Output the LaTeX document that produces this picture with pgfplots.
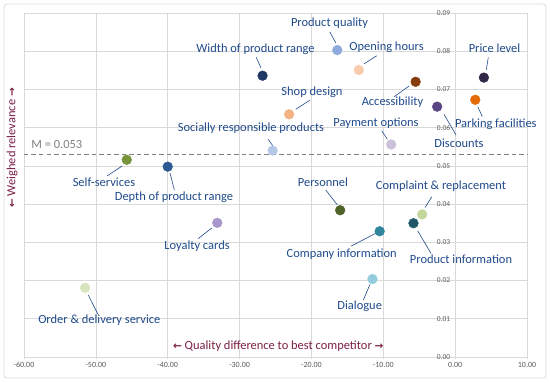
\documentclass[border=0pt]{standalone}
\usepackage{pgfplots}
\pgfplotsset{compat=1.18}
\usepackage{fontspec}
\setmainfont{Carlito}
\newfontfamily\arrowfont{DejaVu Sans}
\definecolor{lbl}{HTML}{1F4A8A}
\definecolor{ttl}{HTML}{7A1F45}
\definecolor{gridc}{HTML}{D9D9D9}
\definecolor{tickc}{HTML}{595959}
\definecolor{c1}{HTML}{203864}
\definecolor{c2}{HTML}{8FAADC}
\definecolor{c3}{HTML}{F8CBAD}
\definecolor{c4}{HTML}{843C0C}
\definecolor{c5}{HTML}{2F2847}
\definecolor{c6}{HTML}{E36C09}
\definecolor{c7}{HTML}{5B4582}
\definecolor{c8}{HTML}{F4B183}
\definecolor{c9}{HTML}{CCC1DA}
\definecolor{c10}{HTML}{B4C7E7}
\definecolor{c11}{HTML}{77933C}
\definecolor{c12}{HTML}{2E5A93}
\definecolor{c13}{HTML}{A797CB}
\definecolor{c14}{HTML}{D7E4BD}
\definecolor{c15}{HTML}{4F6228}
\definecolor{c16}{HTML}{C3D69B}
\definecolor{c17}{HTML}{215968}
\definecolor{c18}{HTML}{31859C}
\definecolor{c19}{HTML}{93CDDD}
\tikzset{lab/.style={font=\fontsize{12.5}{14}\selectfont, text=lbl, inner sep=0pt}}
\begin{document}
\begin{tikzpicture}[x=1bp,y=1bp]
\begin{axis}[
  at={(0,0)}, anchor=south west,
  scale only axis, width=503bp, height=344bp,
  xmin=-60, xmax=10, ymin=0, ymax=0.09,
  xtick={-60,-50,...,10}, ytick={0,0.01,...,0.09},
  axis x line=bottom, axis y line=middle,
  hide obscured y ticks=false, hide obscured x ticks=false,
  axis line style={-, color=gridc, line width=0.8pt},
  grid=major, major grid style={color=gridc, line width=0.7pt},
  tick style={color=gridc, line width=0.6pt},
  major tick length=3bp,
  /pgf/number format/assume math mode=true,
  xticklabel style={font=\fontsize{8}{9}\selectfont, color=tickc, /pgf/number format/.cd, fixed, fixed zerofill, precision=2},
  yticklabel style={font=\fontsize{7.5}{8}\selectfont, color=tickc, /pgf/number format/.cd, fixed, fixed zerofill, precision=2},
  scaled y ticks=false,
  clip=false,
  pt/.style={only marks, mark=*, mark size=4.9pt, mark options={draw=#1, fill=#1}},
]
% mean line
\addplot[color=black!50, line width=1.2bp, dash pattern=on 4.5bp off 3bp] coordinates {(-60,0.053) (10,0.053)};
% leader lines
\begin{scope}[lbl, line width=0.6pt]
\draw (axis cs:-27.71,0.0785) -- (axis cs:-27.02,0.0756);
\draw (axis cs:-17.42,0.0850) -- (axis cs:-16.62,0.0822);
\draw (axis cs:-10.92,0.0788) -- (axis cs:-12.68,0.0767);
\draw (axis cs:-8.47,0.0681) -- (axis cs:-6.42,0.0709);
\draw (axis cs:4.61,0.0784) -- (axis cs:4.34,0.0751);
\draw (axis cs:3.14,0.0655) -- (axis cs:3.78,0.0629);
\draw (axis cs:-1.55,0.0635) -- (axis cs:0.12,0.0581);
\draw (axis cs:-22.19,0.0648) -- (axis cs:-20.20,0.0672);
\draw (axis cs:-10.22,0.0592) -- (axis cs:-9.44,0.0570);
\draw (axis cs:-26.04,0.0570) -- (axis cs:-25.35,0.0552);
\draw (axis cs:-48.41,0.0474) -- (axis cs:-46.32,0.0500);
\draw (axis cs:-39.68,0.0481) -- (axis cs:-39.08,0.0437);
\draw (axis cs:-35.74,0.0310) -- (axis cs:-33.84,0.0338);
\draw (axis cs:-51.05,0.0162) -- (axis cs:-49.74,0.0113);
\draw (axis cs:-18.01,0.0437) -- (axis cs:-16.40,0.0398);
\draw (axis cs:-3.26,0.0419) -- (axis cs:-4.19,0.0391);
\draw (axis cs:-5.21,0.0330) -- (axis cs:-3.36,0.0271);
\draw (axis cs:-14.49,0.0290) -- (axis cs:-11.01,0.0324);
\draw (axis cs:-12.78,0.0149) -- (axis cs:-11.85,0.0190);
\end{scope}
% points
\addplot[pt=c1] coordinates {(-26.8,0.0736)};
\addplot[pt=c2] coordinates {(-16.4,0.0803)};
\addplot[pt=c3] coordinates {(-13.4,0.0751)};
\addplot[pt=c4] coordinates {(-5.5,0.0720)};
\addplot[pt=c5] coordinates {(4.0,0.0731)};
\addplot[pt=c6] coordinates {(2.8,0.0673)};
\addplot[pt=c7] coordinates {(-2.5,0.0655)};
\addplot[pt=c8] coordinates {(-23.1,0.0635)};
\addplot[pt=c9] coordinates {(-8.9,0.0556)};
\addplot[pt=c10] coordinates {(-25.4,0.0540)};
\addplot[pt=c11] coordinates {(-45.7,0.0516)};
\addplot[pt=c12] coordinates {(-40.0,0.0498)};
\addplot[pt=c13] coordinates {(-33.1,0.0351)};
\addplot[pt=c14] coordinates {(-51.5,0.0181)};
\addplot[pt=c15] coordinates {(-16.0,0.0384)};
\addplot[pt=c16] coordinates {(-4.6,0.0373)};
\addplot[pt=c17] coordinates {(-5.8,0.0350)};
\addplot[pt=c18] coordinates {(-10.5,0.0329)};
\addplot[pt=c19] coordinates {(-11.5,0.0204)};
% labels
\node[lab] at (axis cs:-27.78,0.0806) {Width of product range};
\node[lab] at (axis cs:-17.48,0.0873) {Product quality};
\node[lab] at (axis cs:-9.55,0.0811) {Opening hours};
\node[lab] at (axis cs:-8.72,0.0666) {Accessibility};
\node[lab] at (axis cs:5.48,0.0807) {Price level};
\node[lab] at (axis cs:5.66,0.0610) {Parking facilities};
\node[lab] at (axis cs:0.54,0.0559) {Discounts};
\node[lab] at (axis cs:-19.92,0.0693) {Shop design};
\node[lab] at (axis cs:-11.01,0.0612) {Payment options};
\node[lab] at (axis cs:-28.41,0.0599) {Socially responsible products};
\node[lab] at (axis cs:-48.87,0.0456) {Self-services};
\node[lab] at (axis cs:-39.13,0.0418) {Depth of product range};
\node[lab] at (axis cs:-35.92,0.0290) {Loyalty cards};
\node[lab] at (axis cs:-49.52,0.00968) {Order \& delivery service};
\node[lab] at (axis cs:-18.39,0.0456) {Personnel};
\node[lab] at (axis cs:-1.97,0.0447) {Complaint \& replacement};
\node[lab] at (axis cs:0.82,0.0256) {Product information};
\node[lab] at (axis cs:-15.79,0.0269) {Company information};
\node[lab] at (axis cs:-13.28,0.0133) {Dialogue};
\node[lab, text=black!50] at (axis cs:-55.44,0.0557) {M = 0.053};
\node[lab, text=ttl] at (axis cs:-24.61,0.00296) {{\arrowfont\fontsize{10.5}{12}\selectfont\bfseries ←}~Quality difference to best competitor~{\arrowfont\fontsize{10.5}{12}\selectfont\bfseries →}};
\node[lab, text=ttl, rotate=90] at (axis cs:-61.67,0.0547) {{\arrowfont\fontsize{10.5}{12}\selectfont\bfseries ←}~Weighed relevance~{\arrowfont\fontsize{10.5}{12}\selectfont\bfseries →}};
\end{axis}
\draw[gridc, line width=0.8pt, rounded corners=3bp] (-20,-21) rectangle (522,353);
\path[use as bounding box] (-24,-25) rectangle (526,357);
\end{tikzpicture}
\end{document}
